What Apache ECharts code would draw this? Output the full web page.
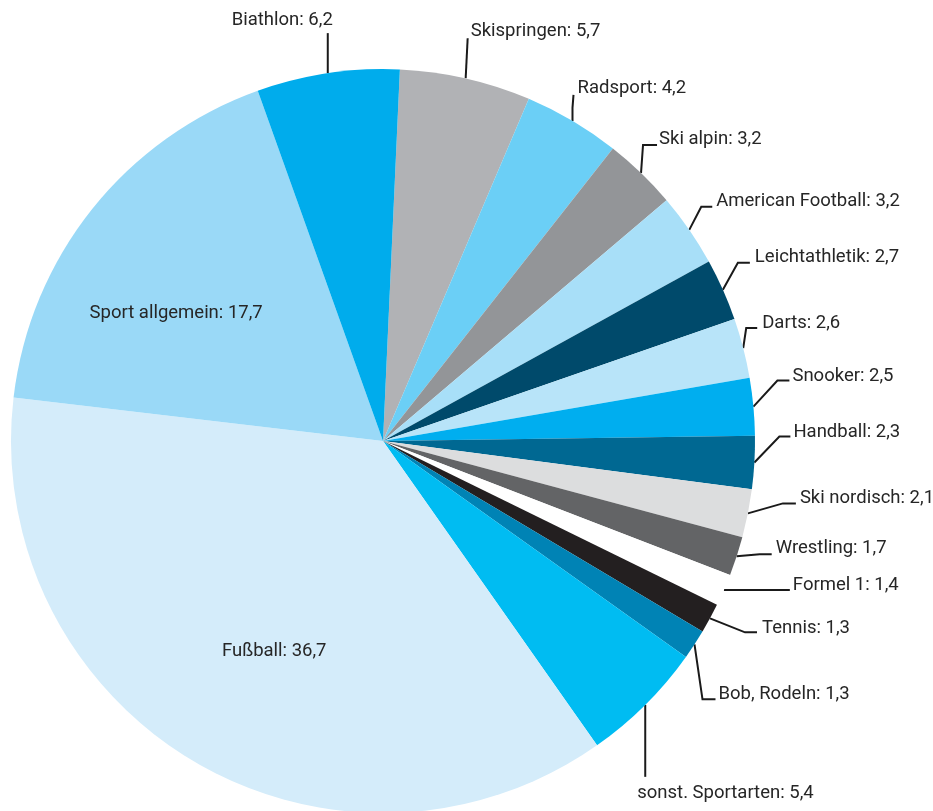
<!DOCTYPE html>
<html>
<head>
<meta charset="utf-8">
<script src="https://cdn.jsdelivr.net/npm/echarts@6/dist/echarts.min.js"></script>
<style>
  html, body { margin: 0; padding: 0; background: #ffffff; }
  #chart { width: 933px; height: 811px; }
</style>
</head>
<body>
<div id="chart"></div>
<script>
// Sports categories, listed clockwise starting just right of 12 o'clock
const categories = [
  'Skispringen', 'Radsport', 'Ski alpin', 'American Football', 'Leichtathletik',
  'Darts', 'Snooker', 'Handball', 'Ski nordisch', 'Wrestling', 'Formel 1',
  'Tennis', 'Bob, Rodeln', 'sonst. Sportarten', 'Fußball', 'Sport allgemein', 'Biathlon'
];
const shares = [5.7, 4.2, 3.2, 3.2, 2.7, 2.6, 2.5, 2.3, 2.1, 1.7, 1.4, 1.3, 1.3, 5.4, 36.7, 17.7, 6.2];
const sliceColors = [
  '#b1b2b5', '#6bcff6', '#939598', '#a8dff8', '#004a6b',
  '#b8e4f9', '#00aeef', '#006892', '#dcddde', '#636466', '#ffffff',
  '#231f20', '#0083b5', '#00bcf2', '#d4ecfa', '#9ad9f7', '#00acec'
];
// Labels drawn inside their slice
const insideLabels = ['Fußball', 'Sport allgemein'];

// Leader-line routing per category: elbow offset from the slice edge,
// then the run to the line end, then where the text sits against it.
const leaderRoutes = {
  'Skispringen':       { elbow: [1, -20], run: [1, -20], text: [3, -7], align: 'left' },
  'Radsport':          { elbow: [0, -13], run: [1, -13], text: [4, -7], align: 'left' },
  'Ski alpin':         { elbow: [2, -28], run: [14, 0], text: [2, -6], align: 'left' },
  'American Football': { elbow: [12, -23], run: [11, 0], text: [4, -5], align: 'left' },
  'Leichtathletik':    { elbow: [15, -27], run: [12, 0], text: [5, -5], align: 'left' },
  'Darts':             { elbow: [3, -20], run: [11, 0], text: [5, -5], align: 'left' },
  'Snooker':           { elbow: [24, -26], run: [12, 0], text: [3, -4], align: 'left' },
  'Handball':          { elbow: [25, -26], run: [11, 0], text: [3, -4], align: 'left' },
  'Ski nordisch':      { elbow: [35, -10], run: [13, 0], text: [4, -5], align: 'left' },
  'Wrestling':         { elbow: [23, -2], run: [12, 0], text: [4, -6], align: 'left' },
  'Formel 1':          { elbow: [33, 0], run: [33, 0], text: [3, -5], align: 'left' },
  'Tennis':            { elbow: [35, 14], run: [12, 0], text: [5, -4], align: 'left' },
  'Bob, Rodeln':       { elbow: [8, 55], run: [13, 0], text: [3, -5], align: 'left' },
  'sonst. Sportarten': { elbow: [0, 36], run: [0, 36], text: [-8, 17], align: 'left' },
  'Biathlon':          { elbow: [0, -20], run: [0, -20], text: [5, -13], align: 'right' }
};
// Nudges for the two labels placed inside their slices
const insideShift = {
  'Fußball': [-12, 48],
  'Sport allgemein': [-59, -10]
};

const fmt = v => String(v).replace('.', ',');

const pieData = categories.map((name, i) => {
  const item = { name: name, value: shares[i], itemStyle: { color: sliceColors[i] } };
  if (insideLabels.includes(name)) {
    item.label = { position: 'inside' };
    item.labelLine = { show: false };
  }
  return item;
});

const chart = echarts.init(document.getElementById('chart'), null, { renderer: 'canvas' });
chart.setOption({
  animation: false,
  series: [{
    type: 'pie',
    center: [383, 441],
    radius: 372,
    startAngle: 87.4,
    clockwise: true,
    avoidLabelOverlap: false,
    emphasis: { disabled: true },
    data: pieData,
    label: {
      show: true,
      position: 'outside',
      formatter: p => p.name + ': ' + fmt(p.value),
      fontFamily: 'Roboto, "Liberation Sans", sans-serif',
      fontSize: 18.5,
      color: '#262626'
    },
    labelLine: {
      show: true,
      length: 10,
      length2: 10,
      lineStyle: { color: '#1a1a1a', width: 2 }
    },
    labelLayout: function (p) {
      const name = categories[p.dataIndex];
      if (insideShift[name]) {
        return { dx: insideShift[name][0], dy: insideShift[name][1] };
      }
      const route = leaderRoutes[name];
      if (!route || !p.labelLinePoints) return {};
      const s = p.labelLinePoints[0];
      const e1 = [s[0] + route.elbow[0], s[1] + route.elbow[1]];
      const e2 = [e1[0] + route.run[0], e1[1] + route.run[1]];
      return {
        x: e2[0] + route.text[0],
        y: e2[1] + route.text[1],
        align: route.align,
        verticalAlign: 'middle',
        labelLinePoints: [s, e1, e2]
      };
    }
  }]
});
</script>
</body>
</html>
